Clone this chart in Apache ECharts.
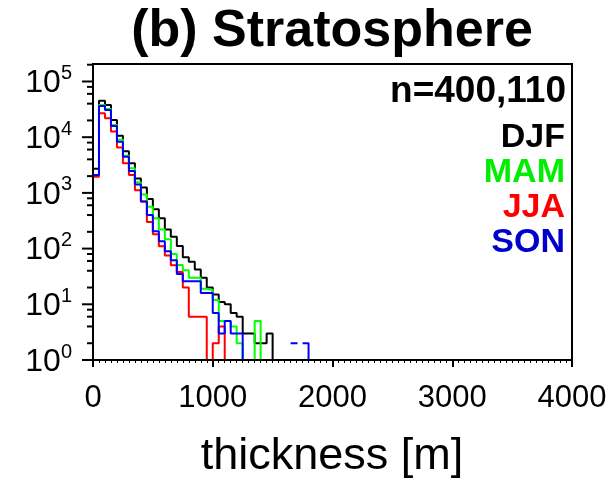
<!DOCTYPE html>
<html>
<head>
<meta charset="utf-8">
<script src="https://cdn.jsdelivr.net/npm/echarts@6/dist/echarts.min.js"></script>
<style>html,body{margin:0;padding:0;background:#fff;}#c{width:608px;height:485px;}</style>
</head>
<body>
<div id="c"></div>
<script>
// ---- data (counts per 50 m thickness bin, starting at 0 m) ----
const binWidth = 50;
const seasons = ['DJF', 'MAM', 'JJA', 'SON'];
const DJF = [2700, 45000, 38000, 20400, 10600, 5600, 3400, 1820, 1250, 780, 507, 350, 221, 164, 111, 70, 58, 42, 30, 20, 15, 11, 10, 7, 6, 3, 3, 2, 2, 3];
const MAM = [2100, 38000, 32000, 16600, 9000, 4660, 2760, 1550, 940, 565, 350, 221, 147, 80, 51, 41, 30, 30, 19, 18, 12, 5, 5, 4, 2, 0, 0, 5];
const JJA = [1950, 27000, 21900, 12600, 6500, 3390, 2100, 1120, 700, 300, 180, 110, 75, 50, 38, 20, 6, 6, 6, 0, 2, 4];
const SON = [2100, 36300, 30900, 15800, 8300, 4460, 2470, 1420, 700, 400, 205, 135, 90, 62, 35, 26, 26, 26, 16, 16, 7, 3, 5, 3, 3, 0, 0, 0, 0, 0, 0, 0, 0, 2, 2, 2];
const sampleText = 'n=400,110';
const xTicks = [0, 1000, 2000, 3000, 4000];
const yDecades = [0, 1, 2, 3, 4, 5];
const yMinorMult = [2, 4, 6, 8];
const yMax = 206000;

const colors = {DJF: '#000000', MAM: '#00ff00', JJA: '#ff0000', SON: '#0000ff'};
const textColors = {DJF: '#000000', MAM: '#00ee00', JJA: '#ff0000', SON: '#0000cd'};

// build histogram outline points from counts [start, end) bin range
function histPoints(counts, start, end) {
  const pts = [];
  for (let i = start; i < end; i++) pts.push([i * binWidth, Math.max(counts[i], 1)]);
  pts.push([end * binWidth, Math.max(counts[end - 1], 1)]);
  pts.push([end * binWidth, 1]);
  return pts;
}

const series = [];
const allData = {DJF, MAM, JJA, SON};
seasons.forEach(s => {
  const c = allData[s];
  let end = c.length;
  let tailStart = -1;
  if (s === 'SON') { end = 25; tailStart = 33; }
  series.push({
    type: 'line', name: s, step: 'end', showSymbol: false, symbol: 'none',
    data: histPoints(c, 0, end),
    lineStyle: {color: colors[s], width: 2}, z: 3, animation: false
  });
  if (tailStart >= 0) {
    const tail = [];
    for (let i = tailStart; i < c.length; i++) tail.push([i * binWidth, c[i]]);
    tail.push([c.length * binWidth, c[c.length - 1]]);
    tail.push([c.length * binWidth, 1]);
    series.push({
      type: 'line', name: s + '_tail', showSymbol: false, symbol: 'none',
      data: tail, lineStyle: {color: colors[s], width: 2, type: [7, 5, 200]}, z: 3, animation: false
    });
  }
});

// y-axis ticks (major per decade, minor at 2,4,6,8)
const tickData = [];
yDecades.forEach(d => {
  tickData.push([0, Math.pow(10, d), 11]);
  yMinorMult.forEach(m => {
    const v = m * Math.pow(10, d);
    if (v < yMax) tickData.push([0, v, 6]);
  });
});
series.push({
  type: 'custom', name: 'yticks', data: tickData, clip: false, silent: true, z: 10, animation: false,
  renderItem: function (params, api) {
    const p = api.coord([api.value(0), api.value(1)]);
    const len = api.value(2);
    return {type: 'line', shape: {x1: p[0] - len, y1: p[1], x2: p[0], y2: p[1]}, style: {stroke: '#000', lineWidth: 2}};
  }
});

const FONT = 'Liberation Sans';
const graphics = [
  {type: 'text', x: 332, y: 32, style: {text: '(b) Stratosphere', font: 'bold 52px "Liberation Sans"', fill: '#000', textAlign: 'center', textVerticalAlign: 'middle'}},
  {type: 'text', x: 566, y: 92, style: {text: sampleText, font: 'bold 37px "Liberation Sans"', fill: '#000', textAlign: 'right', textVerticalAlign: 'middle'}},
  {type: 'text', x: 332, y: 457, style: {text: 'thickness [m]', font: '45px "Liberation Sans"', fill: '#000', textAlign: 'center', textVerticalAlign: 'middle'}}
];
const legendY = [138, 173, 208, 243];
seasons.forEach((s, i) => {
  graphics.push({type: 'text', x: 565, y: legendY[i], style: {text: s, font: 'bold 34px "Liberation Sans"', fill: textColors[s], textAlign: 'right', textVerticalAlign: 'middle'}});
});

const chart = echarts.init(document.getElementById('c'), null, {renderer: 'canvas'});
chart.setOption({
  animation: false,
  backgroundColor: '#fff',
  grid: {left: 93, right: 36, top: 64, bottom: 125, show: true, borderColor: '#000', borderWidth: 2, containLabel: false, outerBoundsMode: 'none'},
  xAxis: {
    type: 'value', min: xTicks[0], max: xTicks[xTicks.length - 1], interval: 1000, z: 10,
    axisLine: {show: true, lineStyle: {color: '#000', width: 2}},
    axisTick: {show: true, length: 7, lineStyle: {color: '#000', width: 2}},
    minorTick: {show: true, splitNumber: 20, length: 3, lineStyle: {color: '#000', width: 1}},
    splitLine: {show: false},
    axisLabel: {color: '#000', fontSize: 31, fontFamily: FONT, margin: 23, formatter: function (v) { return String(v); }}
  },
  yAxis: {
    type: 'log', logBase: 10, min: 1, max: yMax, z: 10,
    axisLine: {show: true, lineStyle: {color: '#000', width: 2}},
    axisTick: {show: false},
    splitLine: {show: false},
    axisLabel: {
      margin: 21, color: '#000',
      formatter: function (v) {
        const e = Math.round(Math.log10(v));
        if (Math.abs(Math.pow(10, e) - v) > 1e-6 * v) return '';
        return '{b|10}{s|' + e + '}';
      },
      rich: {
        b: {fontSize: 32, fontFamily: FONT, color: '#000', lineHeight: 36, verticalAlign: 'bottom'},
        s: {fontSize: 20, fontFamily: FONT, color: '#000', lineHeight: 36, verticalAlign: 'top'}
      }
    }
  },
  graphic: graphics,
  series: series
});
</script>
</body>
</html>
